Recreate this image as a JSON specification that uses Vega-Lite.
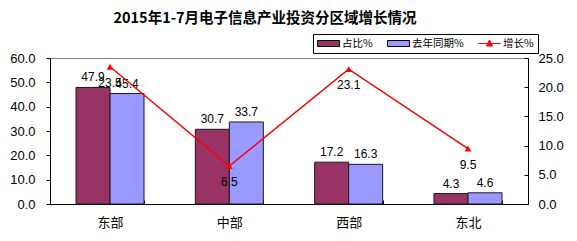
{
  "$schema": "https://vega.github.io/schema/vega-lite/v6.json",
  "width": 478,
  "height": 146,
  "autosize": "none",
  "padding": {"left": 50, "top": 58, "right": 49, "bottom": 37},
  "background": "white",
  "title": {
    "text": "2015年1-7月电子信息产业投资分区域增长情况",
    "font": "Noto Sans CJK SC",
    "fontSize": 14.5,
    "fontWeight": "bold",
    "color": "#000",
    "anchor": "middle",
    "frame": "group",
    "dx": -24,
    "offset": 7
  },
  "datasets": {
    "bars": [
      {"region": "东部", "series": "占比%", "value": 47.9},
      {"region": "东部", "series": "去年同期%", "value": 45.4},
      {"region": "中部", "series": "占比%", "value": 30.7},
      {"region": "中部", "series": "去年同期%", "value": 33.7},
      {"region": "西部", "series": "占比%", "value": 17.2},
      {"region": "西部", "series": "去年同期%", "value": 16.3},
      {"region": "东北", "series": "占比%", "value": 4.3},
      {"region": "东北", "series": "去年同期%", "value": 4.6}
    ],
    "growth": [
      {"region": "东部", "series": "增长%", "growth": 23.5},
      {"region": "中部", "series": "增长%", "growth": 6.5},
      {"region": "西部", "series": "增长%", "growth": 23.1},
      {"region": "东北", "series": "增长%", "growth": 9.5}
    ]
  },
  "encoding": {
    "x": {
      "field": "region",
      "type": "nominal",
      "sort": ["东部", "中部", "西部", "东北"],
      "scale": {"paddingInner": 0.43, "paddingOuter": 0.218},
      "axis": {
        "title": null,
        "labelAngle": 0,
        "labelFont": "Noto Sans CJK SC",
        "labelFontSize": 13,
        "labelColor": "#000",
        "labelPadding": 16,
        "domainColor": "#000",
        "tickColor": "#000",
        "tickBand": "extent",
        "tickSize": -4
      }
    }
  },
  "layer": [
    {
      "data": {"name": "bars"},
      "encoding": {
        "xOffset": {"field": "series", "type": "nominal", "sort": ["占比%", "去年同期%"]},
        "y": {
          "field": "value",
          "type": "quantitative",
          "scale": {"domain": [0, 60]},
          "axis": {
            "title": null,
            "values": [0, 10, 20, 30, 40, 50, 60],
            "format": ".1f",
            "grid": false,
            "labelOverlap": false,
            "labelFlush": false,
            "labelFont": "Liberation Sans",
            "labelFontSize": 13,
            "labelColor": "#000",
            "domainColor": "#000",
            "tickColor": "#000",
            "tickSize": 4,
            "labelPadding": 11
          }
        }
      },
      "layer": [
        {
          "mark": {"type": "bar", "stroke": "#1a1a1a", "strokeWidth": 1},
          "encoding": {
            "color": {
              "field": "series",
              "type": "nominal",
              "scale": {"domain": ["占比%", "去年同期%", "增长%"], "range": ["#993366", "#9999FF", "#FF0000"]},
              "legend": {
                "title": null,
                "orient": "none",
                "legendX": 263,
                "legendY": -24,
                "direction": "horizontal",
                "columns": 3,
                "strokeColor": "#000",
                "fillColor": "#fff",
                "padding": 4,
                "columnPadding": 12,
                "labelFont": "Noto Sans CJK SC",
                "labelFontSize": 10.5,
                "labelColor": "#000",
                "labelOffset": 14,
                "symbolSize": 100,
                "symbolStrokeWidth": 1,
                "symbolOpacity": 1,
                "symbolType": {"expr": "datum.value === '增长%' ? 'M-1,0L3.4,0M1.2,-0.7L1.8,0.5L0.6,0.5Z' : 'M-1,-0.6L3.4,-0.6L3.4,0.6L-1,0.6Z'"},
                "symbolStrokeColor": {"expr": "datum.value === '增长%' ? '#FF0000' : '#000000'"}
              }
            }
          }
        },
        {
          "mark": {"type": "text", "baseline": "bottom", "dy": -3, "font": "Liberation Sans", "fontSize": 12, "color": "#000"},
          "encoding": {
            "text": {"field": "value", "type": "quantitative", "format": ".1f"}
          }
        }
      ]
    },
    {
      "data": {"name": "growth"},
      "encoding": {
        "y": {
          "field": "growth",
          "type": "quantitative",
          "scale": {"domain": [0, 25]},
          "axis": {
            "orient": "right",
            "title": null,
            "values": [0, 5, 10, 15, 20, 25],
            "format": ".1f",
            "grid": false,
            "labelOverlap": false,
            "labelFlush": false,
            "labelFont": "Liberation Sans",
            "labelFontSize": 13,
            "labelColor": "#000",
            "domainColor": "#000",
            "tickColor": "#000",
            "tickSize": -4,
            "labelPadding": 14
          }
        }
      },
      "layer": [
        {
          "mark": {"type": "line", "color": "#FF0000", "strokeWidth": 1.5, "point": {"shape": "triangle-up", "size": 45, "filled": true, "color": "#FF0000"}},
          "encoding": {}
        },
        {
          "mark": {"type": "text", "baseline": "middle", "dy": 16, "font": "Liberation Sans", "fontSize": 12, "color": "#000"},
          "encoding": {
            "text": {"field": "growth", "type": "quantitative", "format": ".1f"}
          }
        }
      ]
    }
  ],
  "resolve": {"scale": {"y": "independent"}},
  "config": {
    "view": {"stroke": "#808080", "strokeWidth": 1}
  }
}
